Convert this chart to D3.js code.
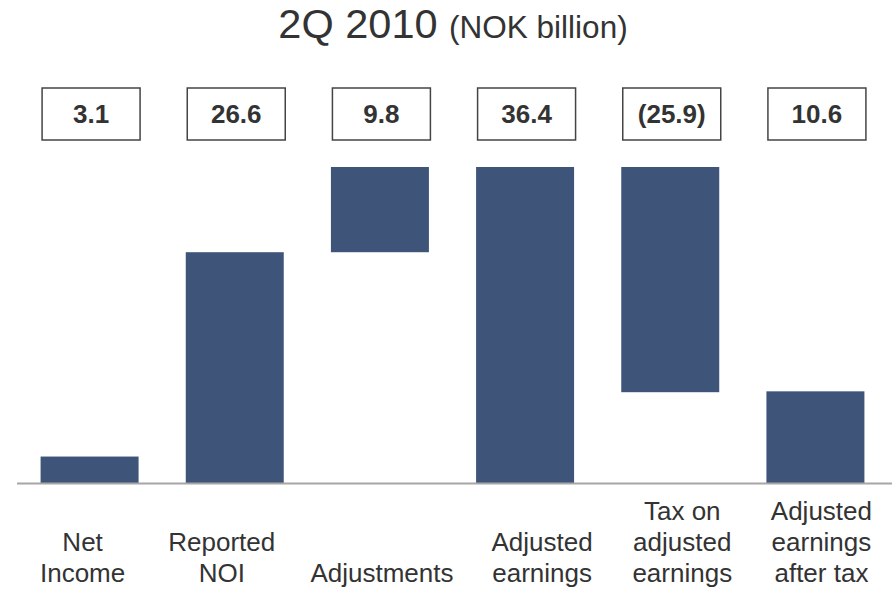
<!DOCTYPE html>
<html>
<head>
<meta charset="utf-8">
<script src="https://cdn.jsdelivr.net/npm/d3@7/dist/d3.min.js"></script>
<style>
  html, body { margin: 0; padding: 0; background: #fff; }
  svg { display: block; font-family: Arial, "Liberation Sans", Helvetica, sans-serif; }
</style>
</head>
<body>
<svg id="chart" width="892" height="590"></svg>
<script>
// ---- data ----
const categories = [
  ["Net", "Income"],
  ["Reported", "NOI"],
  ["Adjustments"],
  ["Adjusted", "earnings"],
  ["Tax on", "adjusted", "earnings"],
  ["Adjusted", "earnings", "after tax"]
];
const values = [3.1, 26.6, 9.8, 36.4, -25.9, 10.6];
const barKind = ["total", "total", "delta", "total", "delta", "total"];
const valueLabels = ["3.1", "26.6", "9.8", "36.4", "(25.9)", "10.6"];
const titleMain = "2Q 2010";
const titleSub = "(NOK billion)";

// ---- layout ----
const W = 892, H = 590;
const baseY = 483.5, topY = 167;
const labelNudge = [-7, -13, 2, 17, 12, 6];
const barColor = "#3f5479";

const svg = d3.select("#chart");

// compute floating bar extents
let running = 0;
const bars = values.map((v, i) => {
  let y0, y1;
  if (barKind[i] === "total") { y0 = 0; y1 = v; running = v; }
  else { y0 = running; y1 = running + v; running = y1; }
  return { i, y0: Math.min(y0, y1), y1: Math.max(y0, y1) };
});

const x = d3.scaleBand()
  .domain(d3.range(values.length))
  .range([17, 888])
  .paddingInner(0.325)
  .paddingOuter(0.1625);

const y = d3.scaleLinear()
  .domain([0, d3.max(bars, d => d.y1)])
  .range([baseY, topY]);

// title
const title = svg.append("text")
  .attr("x", 453)
  .attr("y", 38)
  .attr("text-anchor", "middle")
  .attr("fill", "#333");
title.append("tspan").attr("font-size", 41.5).text(titleMain + " ");
title.append("tspan").attr("font-size", 31.5).text(titleSub);

// bars
svg.append("g").selectAll("rect")
  .data(bars)
  .join("rect")
  .attr("x", d => x(d.i))
  .attr("width", x.bandwidth())
  .attr("y", d => y(d.y1))
  .attr("height", d => y(d.y0) - y(d.y1))
  .attr("fill", barColor);

// baseline axis
const axis = d3.axisBottom(x).tickSize(0).tickFormat("");
const ag = svg.append("g").attr("transform", `translate(0,${y(0)})`).call(axis);
ag.select(".domain").attr("stroke", "#a6a6a6").attr("stroke-width", 2)
  .attr("d", `M17,0H892`);

// value boxes
const boxes = svg.append("g").selectAll("g")
  .data(valueLabels)
  .join("g")
  .attr("transform", (d, i) => `translate(${x(i) + 1.5},88)`);
boxes.append("rect")
  .attr("width", x.bandwidth())
  .attr("height", 52)
  .attr("fill", "#fff")
  .attr("stroke", "#444")
  .attr("stroke-width", 1.5);
boxes.append("text")
  .attr("x", x.bandwidth() / 2)
  .attr("y", 35)
  .attr("text-anchor", "middle")
  .attr("font-size", 26)
  .attr("font-weight", "bold")
  .attr("fill", "#333")
  .text(d => d);

// category labels (bottom aligned)
const lineH = 31, lastBase = 582;
const lg = svg.append("g").selectAll("text")
  .data(categories)
  .join("text")
  .attr("text-anchor", "middle")
  .attr("font-size", 26)
  .attr("fill", "#333")
  .attr("transform", (d, i) => `translate(${x(i) + x.bandwidth() / 2 + labelNudge[i]},0)`);
lg.each(function(lines) {
  const t = d3.select(this);
  lines.forEach((ln, k) => {
    t.append("tspan")
      .attr("x", 0)
      .attr("y", lastBase - (lines.length - 1 - k) * lineH)
      .text(ln);
  });
});
</script>
</body>
</html>
